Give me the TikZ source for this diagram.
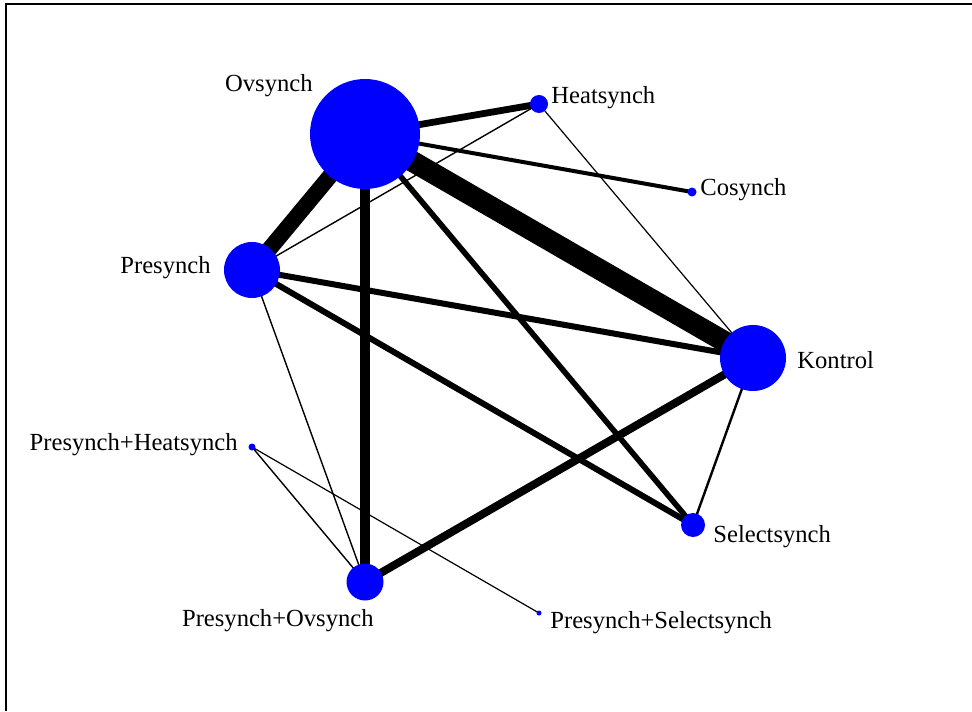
\documentclass[tikz,border=0pt]{standalone}
\usepackage{fontspec}
\setmainfont{Liberation Serif}
\usetikzlibrary{backgrounds}
\tikzset{
  nd/.style={circle,fill={rgb,255:red,0;green,0;blue,255},draw=none,inner sep=0pt,minimum size=#1},
  lbl/.style={inner sep=0pt,font=\fontsize{12.3pt}{14pt}\selectfont,text=black},
  edge/.style={draw=black,line width=#1}
}
\begin{document}
\begin{tikzpicture}[x=0.5pt,y=-0.5pt]
\useasboundingbox (0,0) rectangle (972,711);
\draw[line width=1pt] (6,711) -- (6,4) -- (972,4);
% nodes
\node[nd=55pt] (O) at (365,134) {};
\node[nd=9pt] (H) at (539,104) {};
\node[nd=4.5pt] (C) at (692,192) {};
\node[nd=28pt] (P) at (252,270) {};
\node[nd=33pt] (K) at (753,358) {};
\node[nd=12pt] (S) at (693,525) {};
\node[nd=3.5pt] (PH) at (252,447) {};
\node[nd=18.5pt] (PO) at (365,582) {};
\node[nd=2.5pt] (PS) at (539,613) {};
% labels
\node[lbl,anchor=base east] (lO) at (313,92) {Ovsynch};
\node[lbl,anchor=base west] (lH) at (551,104) {Heatsynch};
\node[lbl,anchor=base west] (lC) at (700,195) {Cosynch};
\node[lbl,anchor=base east] (lP) at (211,273) {Presynch};
\node[lbl,anchor=base west] (lK) at (797,368) {Kontrol};
\node[lbl,anchor=base west] (lS) at (713,542) {Selectsynch};
\node[lbl,anchor=base east] (lPH) at (238,450) {Presynch+Heatsynch};
\node[lbl,anchor=base east] (lPO) at (374,626) {Presynch+Ovsynch};
\node[lbl,anchor=base west] (lPS) at (550,628) {Presynch+Selectsynch};
% edges
\begin{scope}[on background layer]
\draw[edge=10.5pt] (O.center) -- (K.center);
\draw[edge=8pt] (O.center) -- (P.center);
\draw[edge=5.3pt] (O.center) -- (PO.center);
\draw[edge=4pt] (K.center) -- (PO.center);
\draw[edge=3.4pt] (O.center) -- (H.center);
\draw[edge=3pt] (P.center) -- (K.center);
\draw[edge=3pt] (P.center) -- (S.center);
\draw[edge=2.8pt] (O.center) -- (S.center);
\draw[edge=2pt] (O.center) -- (C.center);
\draw[edge=1.2pt] (K.center) -- (S.center);
\draw[edge=0.7pt] (H.center) -- (P.center);
\draw[edge=0.6pt] (H.center) -- (K.center);
\draw[edge=0.7pt] (P.center) -- (PO.center);
\draw[edge=0.7pt] (PH.center) -- (PO.center);
\draw[edge=0.6pt] (PH.center) -- (PS.center);
\end{scope}
\end{tikzpicture}
\end{document}
